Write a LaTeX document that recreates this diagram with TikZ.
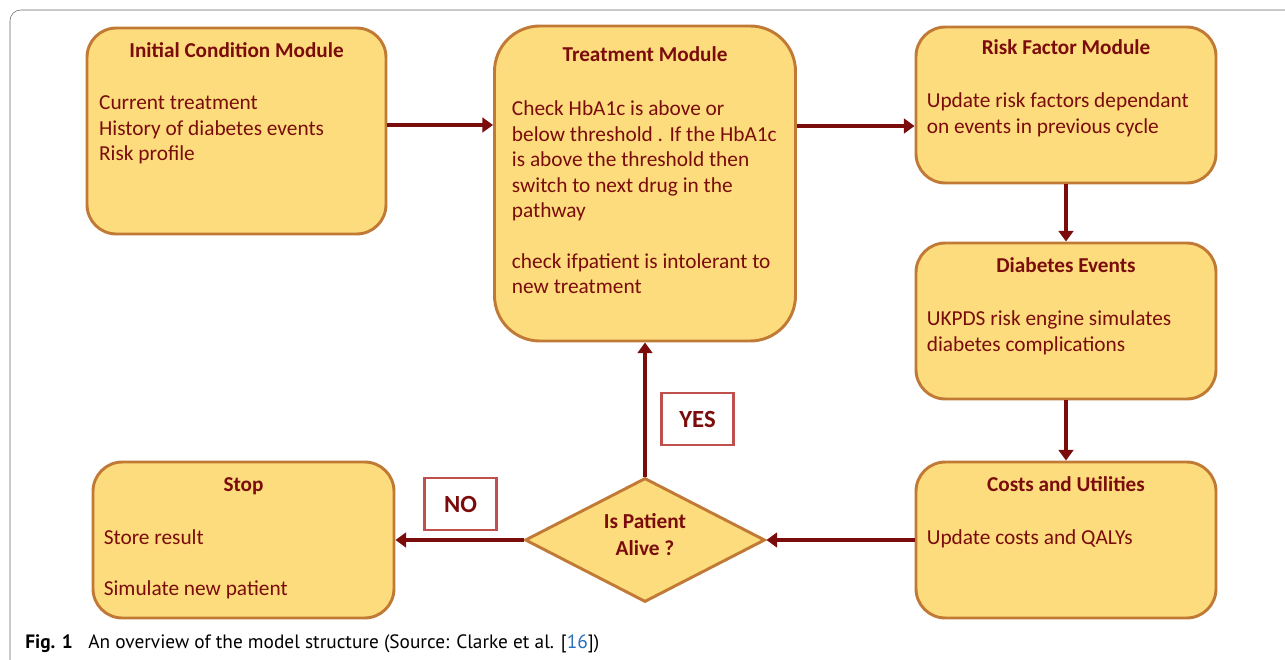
\documentclass[tikz,border=0pt]{standalone}
\usepackage{fontspec}
\setmainfont{Carlito}
\newfontfamily\captionfont{PT Sans}
\usetikzlibrary{arrows.meta,shapes.geometric,positioning}
\definecolor{boxfill}{HTML}{FDDC7D}
\definecolor{boxline}{HTML}{C07A35}
\definecolor{darkred}{HTML}{7A0C0C}
\definecolor{labelline}{HTML}{C0504D}
\definecolor{refblue}{HTML}{2A6EBB}
\tikzset{
    module-box/.style = {draw=boxline, fill=boxfill, line width=2.2pt, rectangle, rounded corners=22pt, inner sep=0pt},
    module-title/.style = {text=darkred, font=\fontsize{15.9}{18}\selectfont\bfseries, anchor=base, inner sep=0pt},
    module-text/.style = {text=darkred, font=\fontsize{16}{19.1}\selectfont, anchor=north west, align=left, inner sep=0pt},
    answer-box/.style = {draw=labelline, fill=white, line width=2pt, text=darkred, font=\fontsize{18.5}{20}\selectfont\bfseries, minimum width=54pt, minimum height=39pt, inner sep=0pt},
    flow-arrow/.style = {draw=darkred, line width=3pt, -{Triangle[width=11pt,length=8pt]}},
}

\begin{document}
\begin{tikzpicture}[x=0.75pt, y=-0.75pt]
\clip (0,0) rectangle (1285,660);
\draw[gray!80!black, rounded corners=8pt] (10,720) -- (10,10) -- (1320,10);

% modules
\node[module-box, minimum width=224.25pt, minimum height=154.5pt] (init) at (236.5,131) {};
\node[module-box, minimum width=225.75pt, minimum height=236.25pt, rounded corners=34pt] (treat) at (645,183.5) {};
\node[module-box, minimum width=225pt, minimum height=117pt] (risk) at (1066,105) {};
\node[module-box, minimum width=225pt, minimum height=117pt] (events) at (1066,321) {};
\node[module-box, minimum width=225pt, minimum height=117pt] (costs) at (1066,540) {};
\node[module-box, minimum width=225.75pt, minimum height=117pt] (stop) at (243.5,540) {};
\node[draw=boxline, fill=boxfill, line width=2.2pt, diamond, aspect=1.94, minimum width=180pt, minimum height=93pt, inner sep=0pt] (alive) at (645,540) {};
\node[text=darkred, font=\fontsize{16}{20}\selectfont\bfseries, align=center, inner sep=0pt] (alive-text) at ([yshift=4pt]alive.center) {Is Patient\\Alive ?};

% titles
\node[module-title] (init-title) at ([yshift=-23.25pt]init.north) {Initial Condition Module};
\node[module-title] (treat-title) at ([yshift=-27.5pt]treat.north) {Treatment Module};
\node[module-title] (risk-title) at ([yshift=-21.5pt]risk.north) {Risk Factor Module};
\node[module-title] (events-title) at ([yshift=-23.25pt]events.north) {Diabetes Events};
\node[module-title] (costs-title) at ([yshift=-23.25pt]costs.north) {Costs and Utilities};
\node[module-title] (stop-title) at ([yshift=-23.25pt]stop.north) {Stop};

% body text
\node[module-text] (init-text) at ([xshift=10pt,yshift=-52pt]init.north west) {Current treatment\\History of diabetes events\\Risk profile};
\node[module-text] (treat-text) at ([xshift=14pt,yshift=-57pt]treat.north west) {Check HbA1c is above or\\below threshold . If the HbA1c\\is above the threshold then\\switch to next drug in the\\pathway\\[19pt]check ifpatient is intolerant to\\new treatment};
\node[module-text] (risk-text) at ([xshift=9pt,yshift=-50.5pt]risk.north west) {Update risk factors dependant\\on events in previous cycle};
\node[module-text] (events-text) at ([xshift=9pt,yshift=-52pt]events.north west) {UKPDS risk engine simulates\\diabetes complications};
\node[module-text] (costs-text) at ([xshift=9pt,yshift=-52pt]costs.north west) {Update costs and QALYs};
\node[module-text] (stop-text) at ([xshift=9pt,yshift=-52pt]stop.north west) {Store result\\[19pt]Simulate new patient};

% answers
\node[answer-box] (yes) at (697.5,419) {YES};
\node[answer-box] (no) at (460.5,504) {NO};

% connectors
\coordinate (init-out) at ([yshift=4.5pt]init.east);
\coordinate (risk-in) at ([yshift=-15.75pt]risk.west);
\draw[flow-arrow] (init-out) -- (init-out -| treat.west);
\draw[flow-arrow] (treat.east |- risk-in) -- (risk-in);
\draw[flow-arrow] (risk) -- (events);
\draw[flow-arrow] (events) -- (costs);
\draw[flow-arrow] (costs.west) -- (alive.east);
\draw[flow-arrow] (alive.west) -- (stop.east);
\draw[flow-arrow] (alive.north) -- (treat.south);

% caption
\node[anchor=base west, inner sep=0pt, font=\captionfont\fontsize{14.5}{16}\selectfont\bfseries] (fig-label) at (25,648) {Fig. 1};
\node[anchor=base west, inner sep=0pt, font=\captionfont\fontsize{14.5}{16}\selectfont] (fig-caption) at (88,648) {An overview of the model structure (Source: Clarke et al. [\textcolor{refblue}{16}])};
\end{tikzpicture}
\end{document}
